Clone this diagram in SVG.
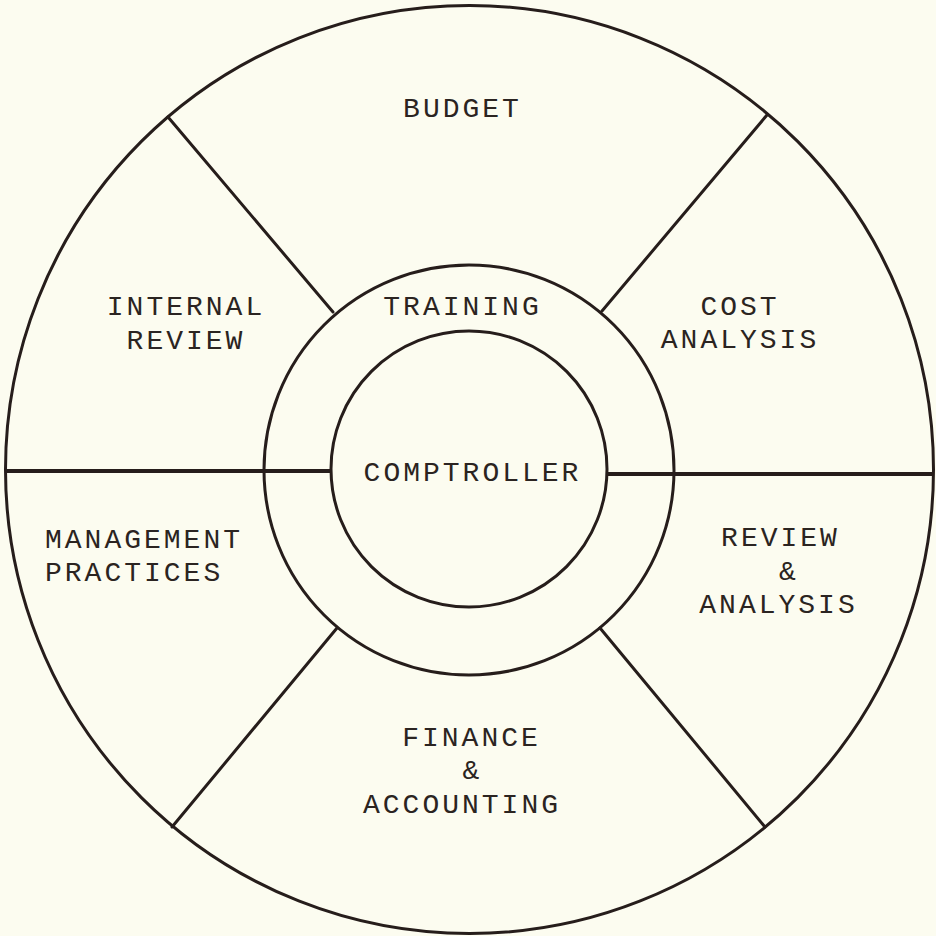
<svg xmlns="http://www.w3.org/2000/svg" width="936" height="936" viewBox="0 0 936 936">
<style>
.ring{fill:none;stroke:#261d1b;stroke-width:3}
.div{stroke:#261d1b;stroke-width:3;stroke-linecap:round;fill:none}
.hdiv{stroke:#261d1b;stroke-width:4;fill:none}
text{font-family:"Liberation Mono","Courier New",monospace;font-size:28px;letter-spacing:3px;fill:#2b2421;text-anchor:middle}
.l{text-anchor:start}
</style>
<rect width="936" height="936" fill="#fcfcf0"/>
<g id="outer-ring"><circle class="ring" cx="469.5" cy="469.5" r="464"/></g>
<g id="training"><circle class="ring" cx="469" cy="470" r="205"/><text x="462.5" y="315">TRAINING</text></g>
<g id="comptroller"><circle class="ring" cx="469" cy="469" r="138"/><text x="472.5" y="481">COMPTROLLER</text></g>
<g id="connectors">
<line class="hdiv" x1="5.5" y1="471" x2="332" y2="471"/>
<line class="hdiv" x1="606" y1="474" x2="933.5" y2="474"/>
<line class="div" x1="168" y1="117" x2="333" y2="312"/>
<line class="div" x1="767" y1="115" x2="602" y2="311"/>
<line class="div" x1="172" y1="827" x2="337" y2="628"/>
<line class="div" x1="765" y1="827" x2="600" y2="628"/>
</g>
<g id="budget"><text x="462.5" y="117">BUDGET</text></g>
<g id="internal-review"><text x="186" y="315">INTERNAL</text><text x="186" y="349">REVIEW</text></g>
<g id="cost-analysis"><text x="740" y="315">COST</text><text x="740" y="348">ANALYSIS</text></g>
<g id="management-practices"><text class="l" x="45" y="548">MANAGEMENT</text><text class="l" x="45" y="581">PRACTICES</text></g>
<g id="review-analysis"><text x="780.5" y="546">REVIEW</text><text x="789" y="580">&amp;</text><text x="778.5" y="613">ANALYSIS</text></g>
<g id="finance-accounting"><text x="471.5" y="746">FINANCE</text><text x="472.5" y="779">&amp;</text><text x="462" y="813">ACCOUNTING</text></g>
</svg>
